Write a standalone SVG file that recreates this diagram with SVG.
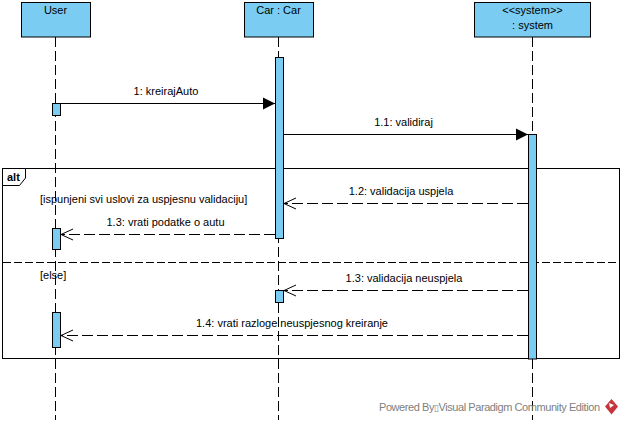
<svg xmlns="http://www.w3.org/2000/svg" width="623" height="424" viewBox="0 0 623 424">
<style>
text{font-family:"Liberation Sans",Arial,sans-serif;font-size:11px;fill:#000}
.m{text-anchor:middle}
.box{fill:#7accf3;stroke:#000;stroke-width:1}
.life{fill:none;stroke:#000;stroke-width:1;stroke-dasharray:10 4;shape-rendering:crispEdges}
.msg{fill:none;stroke:#000;stroke-width:1;shape-rendering:crispEdges}
.ret{stroke-dasharray:11 4}
.ft{fill:#808080;font-size:11px}
</style>
<defs>
<marker id="fill" markerUnits="userSpaceOnUse" markerWidth="14" markerHeight="14" refX="13" refY="7" orient="auto"><path d="M1 1L13 7L1 13Z" fill="#000"/></marker>
<marker id="open" markerUnits="userSpaceOnUse" markerWidth="14" markerHeight="14" refX="13" refY="7" orient="auto"><path d="M1 1.500L13 7L1 12.500" fill="none" stroke="#000"/></marker>
</defs>
<rect width="623" height="424" fill="#fff"/>
<g id="frame-alt">
<rect x="2.500" y="168.500" width="617" height="190" fill="none" stroke="#000"/>
<path d="M2.500 168.500H25.500V178L19.500 185.500H2.500Z" fill="#fff" stroke="#000"/>
<text x="7" y="180.500" style="font-weight:bold">alt</text>
<path class="life" d="M3 262.500H619" style="stroke-dasharray:8 3"/>
<text x="40" y="203">[ispunjeni svi uslovi za uspjesnu validaciju]</text>
<text x="40" y="279">[else]</text>
</g>
<g id="user">
<path class="life" d="M55.500 37V420"/>
<rect class="box" x="21.500" y="2.500" width="69" height="34.500"/>
<text class="m" x="55.500" y="14">User</text>
<rect class="box" x="52.500" y="103.500" width="8" height="12"/>
<rect class="box" x="52.500" y="228.500" width="8" height="21"/>
<rect class="box" x="52.500" y="312.500" width="8" height="35"/>
</g>
<g id="car">
<path class="life" d="M278.500 37V420"/>
<rect class="box" x="244.500" y="2.500" width="69" height="34.500"/>
<text class="m" x="278.500" y="14">Car : Car</text>
<rect class="box" x="275.500" y="57.500" width="8" height="181"/>
<rect class="box" x="275.500" y="290.500" width="8" height="12"/>
</g>
<g id="system">
<path class="life" d="M532.500 37V420"/>
<rect class="box" x="474.500" y="2.500" width="116" height="34.500"/>
<text class="m" x="532.500" y="14">&lt;&lt;system&gt;&gt;</text>
<text class="m" x="532.500" y="29">: system</text>
<rect class="box" x="528.500" y="134.500" width="8" height="224.500"/>
</g>
<g id="connectors">
<path class="msg" d="M60.500 103.500H275" marker-end="url(#fill)"/>
<path class="msg" d="M283.500 134.500H528" marker-end="url(#fill)"/>
<path class="msg ret" d="M528 203.500H284" marker-end="url(#open)"/>
<path class="msg ret" d="M275 234.500H61" marker-end="url(#open)"/>
<path class="msg ret" d="M528 290.500H284" marker-end="url(#open)"/>
<path class="msg ret" d="M528 335.500H61" marker-end="url(#open)"/>
<text class="m" x="166" y="95">1: kreirajAuto</text>
<text class="m" x="403.500" y="126">1.1: validiraj</text>
<text class="m" x="401" y="195">1.2: validacija uspjela</text>
<text class="m" x="165.500" y="226">1.3: vrati podatke o autu</text>
<text class="m" x="404" y="282">1.3: validacija neuspjela</text>
<text class="m" x="292" y="327">1.4: vrati razloge neuspjesnog kreiranje</text>
</g>
<g id="footer">
<text class="ft" x="379" y="411" textLength="221">Powered By<tspan font-size="9">▯</tspan>Visual Paradigm Community Edition</text>
<path d="M611.500 399L618 406.500L611.500 414.500L605 406.500Z" fill="#c8343c"/>
<path d="M609 403L614 405L610 408Z" fill="#fff"/>
</g>
</svg>
